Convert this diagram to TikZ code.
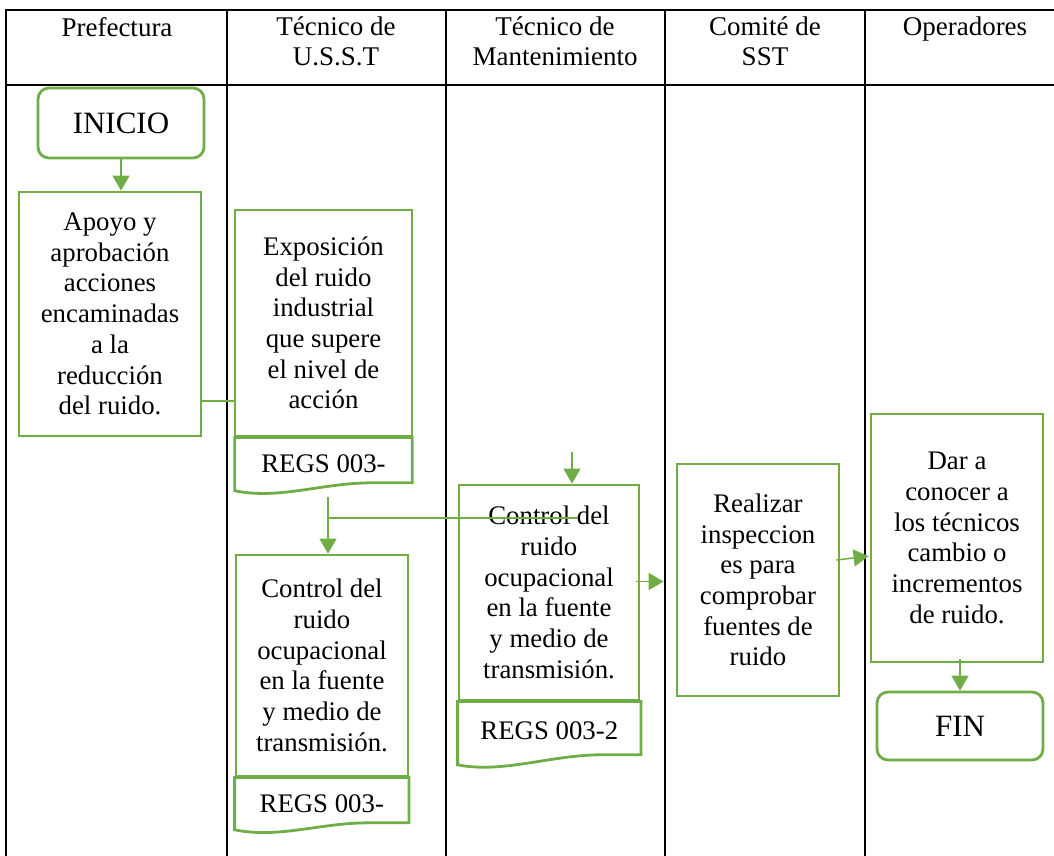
\documentclass[tikz,border=0pt]{standalone}
\usepackage{fontspec}
\setmainfont{Liberation Serif}
\usetikzlibrary{arrows.meta, positioning, calc}
\definecolor{cverde}{RGB}{112, 173, 71}
\tikzset{
  caja/.style={draw=cverde, line width=2.8pt, align=center, inner sep=0pt,
               font=\fontsize{26.8}{30.7}\selectfont},
  term/.style={caja, rounded corners=11pt, font=\fontsize{31}{34}\selectfont},
  regs/.style={align=center, inner sep=0pt, font=\fontsize{26.8}{30.7}\selectfont},
  flujo/.style={-{Triangle[width=17pt, length=15pt]}, line width=1.5pt, draw=cverde},
  enlace/.style={line width=1.5pt, draw=cverde},
  carril/.style={line width=2.4pt, draw=black, line cap=rect},
  cab/.style={align=center, inner sep=0pt, anchor=north, font=\fontsize{27}{30}\selectfont},
}
% contorno de documento: borde inferior ondulado, lado derecho mas corto
\newcommand{\hoja}[2]{%
  \draw[draw=cverde, line width=2.8pt]
    (#1.south west) .. controls +(45,9) and +(-50,0) .. ($(#1.south east)+(-40,-#2)$)
    -- ($(#1.south east)+(0,-#2)$) -- (#1.north east) -- (#1.north west) -- cycle;}

\begin{document}
\begin{tikzpicture}[x=1pt, y=-1pt]
\useasboundingbox (0,0) rectangle (1054,855);

% ---------- carriles ----------
\draw[carril] (6,10) -- (1054,10);
\draw[carril] (6,85) -- (1054,85);
\foreach \x in {6,227,446,665,865}
  \draw[carril] (\x,10) -- (\x,855);

\node[cab] (hpref) at (117,17) {Prefectura};
\node[cab] (husst) at (336,17) {Técnico de\\U.S.S.T};
\node[cab] (hmant) at (555,17) {Técnico de\\Mantenimiento};
\node[cab] (hcom)  at (765,17) {Comité de\\SST};
\node[cab] (hoper) at (965,17) {Operadores};

% ---------- actividades ----------
\node[term, minimum width=166, minimum height=70] (inicio) at (121,123) {INICIO};

\node[caja, minimum width=182, minimum height=244] (apoyo) at (110,314)
  {Apoyo y\\aprobación\\acciones\\encaminadas\\a la\\reducción\\del ruido.};

\node[caja, minimum width=177, minimum height=226] (expo) at (323.5,323)
  {Exposición\\del ruido\\industrial\\que supere\\el nivel de\\acción};
\node[regs, minimum width=177, minimum height=53, below=0pt of expo] (expreg) {REGS 003-};

\node[caja, minimum width=172, minimum height=221] (ctlusst) at (322,665.5)
  {Control del\\ruido\\ocupacional\\en la fuente\\y medio de\\transmisión.};
\node[regs, minimum width=174, minimum height=52, below=0pt of ctlusst.south west,
      anchor=north west] (ctlreg) {REGS 003-};

\node[caja, minimum width=180, minimum height=215] (ctlmant) at (549,592.5)
  {Control del\\ruido\\ocupacional\\en la fuente\\y medio de\\transmisión.};
\node[regs, minimum width=183, minimum height=63, below=0pt of ctlmant.south west,
      anchor=north west] (mantreg) {\raisebox{5pt}{REGS 003-2}};

\node[caja, minimum width=162, minimum height=232] (inspec) at (758,580)
  {Realizar\\inspeccion\\es para\\comprobar\\fuentes de\\ruido};

\node[caja, minimum width=172, minimum height=248] (avisar) at (957,538)
  {Dar a\\conocer a\\los técnicos\\cambio o\\incrementos\\de ruido.};

\node[term, minimum width=166, minimum height=68] (fin) at (960,726) {FIN};

\hoja{expreg}{8}
\hoja{ctlreg}{7}
\hoja{mantreg}{10}

% ---------- conectores ----------
\coordinate (rama) at (328,518);
\coordinate (ramafin) at (578,518);
\coordinate (entrada) at (572,452);

\draw[flujo] (inicio.south) -- (inicio.south |- apoyo.north);
\draw[enlace] ([yshift=-87pt]apoyo.east) -- ([yshift=-87pt]apoyo.east -| expo.west);
\draw[flujo] ([yshift=-6pt]expreg.south -| rama) -- (rama |- ctlusst.north);
\draw[enlace] (rama) -- (ramafin);
\draw[flujo] (entrada) -- (entrada |- ctlmant.north);
\draw[flujo, shorten >=12pt] ([xshift=-4pt, yshift=11pt]ctlmant.east)
  -- ([yshift=11pt]ctlmant.east -| inspec.west);
\draw[flujo, shorten >=1pt] ([xshift=-4pt, yshift=20pt]inspec.east)
  -- ([yshift=24pt]inspec.east -| avisar.west);
\draw[flujo] ([yshift=4pt]avisar.south -| fin.north) -- (fin.north);

\end{tikzpicture}
\end{document}
